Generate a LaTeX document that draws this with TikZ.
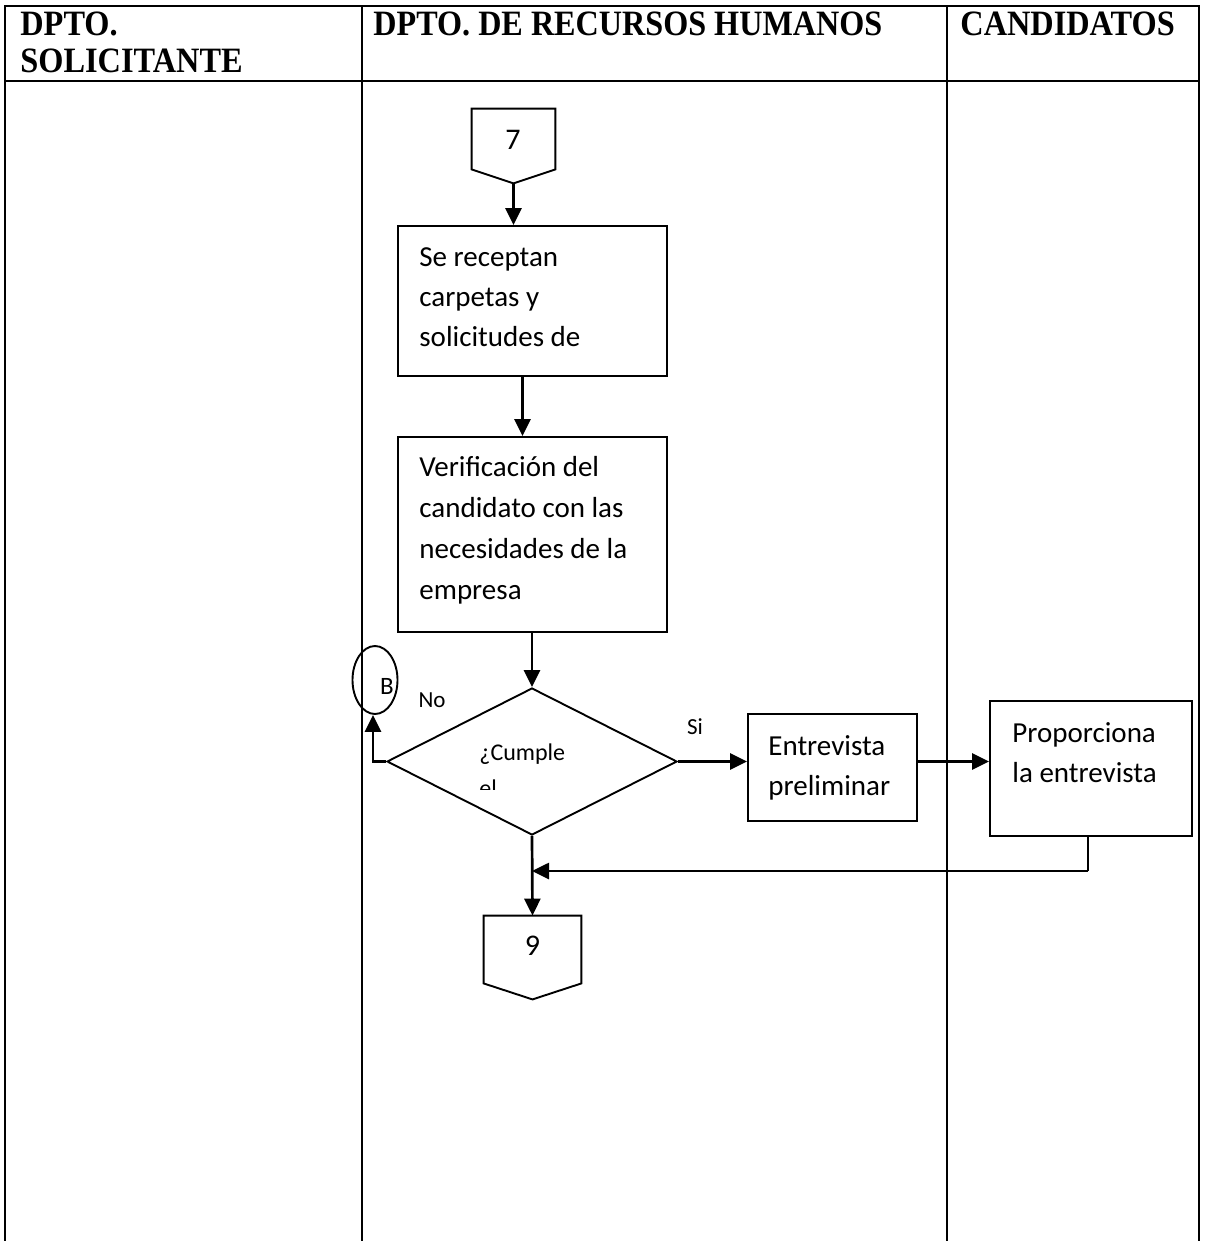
\documentclass[tikz,border=0pt]{standalone}
\usepackage{fontspec}
\setmainfont{Carlito}
\newfontfamily\hdrfont{Liberation Serif}
\usetikzlibrary{arrows.meta,shapes.geometric,calc}

\begin{document}
\begin{tikzpicture}[x=0.5pt,y=-0.5pt,
  lane/.style={line width=1.2pt},
  box/.style={draw,line width=0.95pt,rectangle,inner sep=0pt},
  conn/.style={inner sep=0pt,rectangle},
  arr/.style={line width=1.35pt,-{Triangle[length=8.5pt,width=8pt]}},
  hdr/.style={inner sep=0pt,anchor=base west,font=\hdrfont\bfseries\fontsize{16.5pt}{18.5pt}\selectfont},
  txt/.style={inner sep=0pt,align=left,anchor=west,font=\fontsize{14.5pt}{20pt}\selectfont},
  small/.style={inner sep=0pt,font=\fontsize{11.5pt}{13pt}\selectfont},
  num/.style={inner sep=0pt,font=\fontsize{15pt}{17pt}\selectfont}]
\useasboundingbox (0,0) rectangle (1209,1241);

% swimlane table
\draw[lane] (5,1241) -- (5,6) -- (1199,6) -- (1199,1241);
\draw[lane] (5,81) -- (1199,81);
\draw[lane] (362,6) -- (362,1241);
\draw[lane] (947,6) -- (947,1241);

% lane headings
\node[hdr] (h1a) at (20,36) {\scalebox{0.98}[1.08]{DPTO.}};
\node[hdr] (h1b) at (20,73) {\scalebox{0.98}[1.08]{SOLICITANTE}};
\node[hdr] (h2) at (373,36) {\scalebox{0.975}[1.08]{DPTO. DE RECURSOS HUMANOS}};
\node[hdr] (h3) at (960,36) {\scalebox{0.98}[1.08]{CANDIDATOS}};

% off-page connector 7
\node[conn,minimum width=41.5pt,minimum height=30pt] (c7) at (513.5,139) {};
\coordinate (c7tip) at ($(c7.south)+(0,14)$);
\draw[line width=0.95pt] (c7.north west) -- (c7.north east) -- (c7.south east)
  -- (c7tip) -- (c7.south west) -- cycle;
\node[num] (n7) at (513,140) {7};

% process boxes
\node[box,minimum width=134.5pt,minimum height=75pt] (box1) at (532.5,301) {};
\node[txt] (t1) at (419,297) {Se receptan\\carpetas y\\solicitudes de};

\node[box,minimum width=134.5pt,minimum height=97.5pt] (box2) at (532.5,534.5) {};
\node[txt,font=\fontsize{14.5pt}{20.5pt}\selectfont] (t2) at (419,530.5) {Verificación del\\candidato con las\\necesidades de la\\empresa};

% decision
\node[draw,line width=0.95pt,diamond,inner sep=0pt,minimum width=145pt,minimum height=73.5pt] (dia) at (532,761.5) {};
\begin{scope}
  \clip (470,700) rectangle (600,789);
  \node[inner sep=0pt,align=left,anchor=west,font=\fontsize{12pt}{18pt}\selectfont] (q) at (479,770) {¿Cumple\\el};
\end{scope}

% connector B
\node[draw,line width=0.95pt,ellipse,inner sep=0pt,minimum width=22.5pt,minimum height=34pt] (B) at (375,680) {};
\node[small,font=\fontsize{12.5pt}{14pt}\selectfont] (bl) at (387,686) {B};
\node[small] (no) at (432,700) {No};
\node[small] (si) at (695,727) {Si};

% interview boxes
\node[box,minimum width=84.5pt,minimum height=53.5pt] (entre) at (832.5,767.5) {};
\node[txt] (t3) at (768,767.5) {Entrevista\\preliminar};

\node[box,minimum width=101pt,minimum height=67.5pt] (prop) at (1091,768.5) {};
\node[txt] (t4) at (1012,753) {Proporciona\\la entrevista};

% off-page connector 9
\node[conn,minimum width=48.5pt,minimum height=33.5pt] (c9) at (532.5,949.5) {};
\coordinate (c9tip) at ($(c9.south)+(0,16)$);
\draw[line width=0.95pt] (c9.north west) -- (c9.north east) -- (c9.south east)
  -- (c9tip) -- (c9.south west) -- cycle;
\node[num] (n9) at (532.5,946) {9};

% connectors
\draw[arr] (c7tip) -- (c7tip |- box1.north);
\draw[arr] ($(box1.south)+(-10,0)$) -- ($(box2.north)+(-10,0)$);
\draw[arr] (box2.south -| dia.north) -- (dia.north);
\coordinate (nb) at (373,761.5);
\draw[arr] (dia.west) -- (nb) -- (nb |- B.south);
\draw[arr] (dia.east) -- (dia.east -| entre.west);
\draw[arr] (dia.east -| entre.east) -- (dia.east -| prop.west);
\coordinate (r1) at (1088,871);
\draw[line width=0.95pt] (r1 |- prop.south) -- (r1);
\draw[arr] (r1) -- (r1 -| dia.south);
\draw[arr] (dia.south) -- (c9.north);
\end{tikzpicture}
\end{document}
